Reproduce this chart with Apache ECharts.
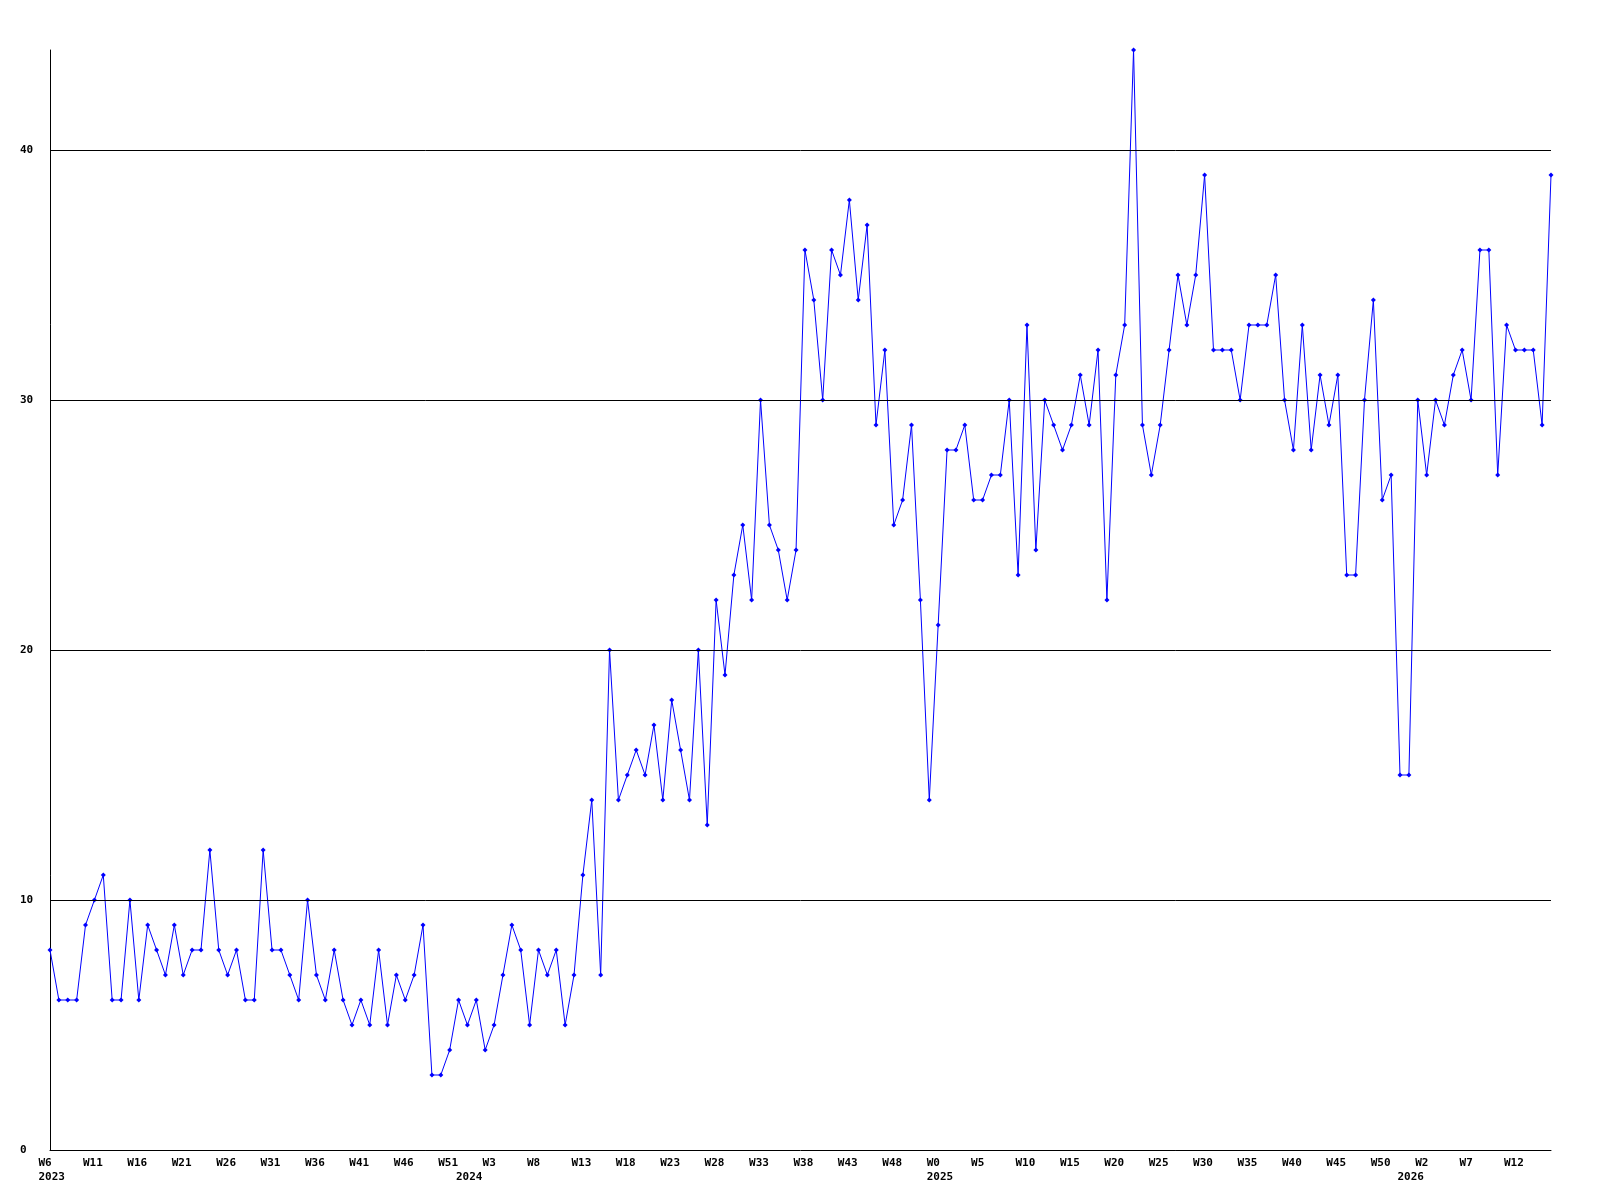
<!DOCTYPE html>
<html><head><meta charset="utf-8">
<script src="https://cdn.jsdelivr.net/npm/echarts@6/dist/echarts.min.js"></script>
<style>html,body{margin:0;padding:0;background:#fff}#c{width:1600px;height:1200px}</style>
</head><body><div id="c"></div>
<script>
// Week ranges per year (category definition)
const years = ['2023', '2024', '2025', '2026'];
const firstWeek = [6, 0, 0, 0];
const lastWeek = [52, 52, 52, 16];

// Weekly values
const values = [
  8, 6, 6, 6, 9, 10, 11, 6, 6, 10,
  6, 9, 8, 7, 9, 7, 8, 8, 12, 8,
  7, 8, 6, 6, 12, 8, 8, 7, 6, 10,
  7, 6, 8, 6, 5, 6, 5, 8, 5, 7,
  6, 7, 9, 3, 3, 4, 6, 5, 6, 4,
  5, 7, 9, 8, 5, 8, 7, 8, 5, 7,
  11, 14, 7, 20, 14, 15, 16, 15, 17, 14,
  18, 16, 14, 20, 13, 22, 19, 23, 25, 22,
  30, 25, 24, 22, 24, 36, 34, 30, 36, 35,
  38, 34, 37, 29, 32, 25, 26, 29, 22, 14,
  21, 28, 28, 29, 26, 26, 27, 27, 30, 23,
  33, 24, 30, 29, 28, 29, 31, 29, 32, 22,
  31, 33, 44, 29, 27, 29, 32, 35, 33, 35,
  39, 32, 32, 32, 30, 33, 33, 33, 35, 30,
  28, 33, 28, 31, 29, 31, 23, 23, 30, 34,
  26, 27, 15, 15, 30, 27, 30, 29, 31, 32,
  30, 36, 36, 27, 33, 32, 32, 32, 29, 39
];

// Axis settings
const yMax = 44;
const yInterval = 10;
const gridValues = [10, 20, 30, 40];
const labelEvery = 5;

const categories = [];
years.forEach((y, k) => {
  for (let w = firstWeek[k]; w <= lastWeek[k]; w++) categories.push(y + '-W' + w);
});

const FONT = 'DejaVu Sans Mono';

function xLabel(value, index) {
  const parts = value.split('-W');
  const showWeek = index % labelEvery === 0;
  const showYear = index === 0 || parts[1] === '0';
  let s = showWeek ? 'W' + parts[1] : (showYear ? ' ' : '');
  if (showYear) s += '\n' + parts[0];
  return s;
}

const chart = echarts.init(document.getElementById('c'), null, { renderer: 'canvas' });
chart.setOption({
  animation: false,
  backgroundColor: '#ffffff',
  grid: [
    { left: 50, right: 49, top: 50, bottom: 50, outerBoundsMode: 'none', containLabel: false },
    { left: 38.5, right: 60.5, top: 50, bottom: 50, outerBoundsMode: 'none', containLabel: false }
  ],
  xAxis: [
    {
      gridIndex: 0, type: 'category', data: categories, boundaryGap: false,
      axisLine: { show: true, lineStyle: { color: '#000', width: 1 } },
      axisTick: { show: false },
      axisLabel: { show: false },
      splitLine: { show: false }
    },
    {
      gridIndex: 1, type: 'category', data: categories, boundaryGap: false,
      axisLine: { show: false }, axisTick: { show: false }, splitLine: { show: false },
      axisLabel: {
        show: true, interval: 0, align: 'left', margin: 6,
        fontFamily: FONT, fontWeight: 'bold', fontSize: 11, lineHeight: 14, color: '#000',
        formatter: xLabel
      }
    }
  ],
  yAxis: [
    {
      gridIndex: 0, type: 'value', min: 0, max: yMax, interval: yInterval,
      axisLine: { show: true, lineStyle: { color: '#000', width: 1 } },
      axisTick: { show: false },
      splitLine: { show: false },
      axisLabel: {
        show: true, align: 'left', margin: 30, showMaxLabel: false,
        fontFamily: FONT, fontWeight: 'bold', fontSize: 11, color: '#000',
        formatter: v => (v % yInterval === 0 ? String(v) : '')
      }
    },
    { gridIndex: 1, type: 'value', show: false, min: 0, max: yMax }
  ],
  series: [{
    type: 'line',
    xAxisIndex: 0, yAxisIndex: 0,
    data: values,
    showSymbol: true,
    showAllSymbol: true,
    symbol: 'diamond',
    symbolSize: 5,
    lineStyle: { color: '#0000ff', width: 1 },
    itemStyle: { color: '#0000ff' },
    emphasis: { disabled: true },
    z: 3,
    markLine: {
      silent: true,
      symbol: ['none', 'none'],
      label: { show: false },
      lineStyle: { color: '#000', width: 1, type: 'solid' },
      emphasis: { disabled: true },
      data: gridValues.map(v => ({ yAxis: v }))
    }
  }]
});
</script>
</body></html>
